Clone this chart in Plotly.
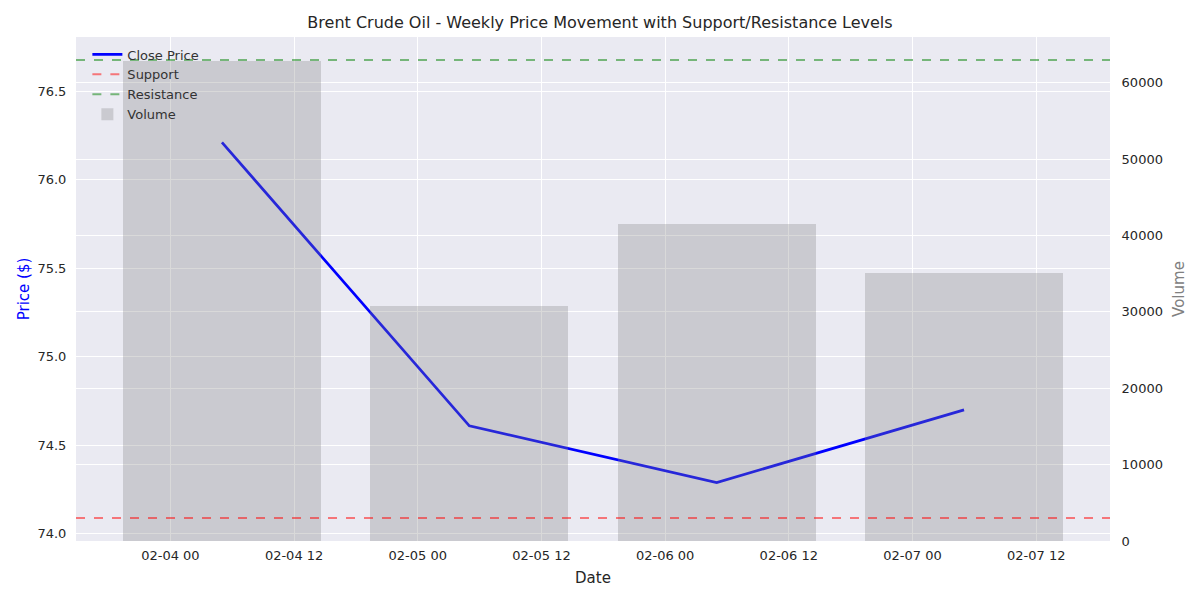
import plotly.graph_objects as go
import pandas as pd

dates = ["2025-02-04 05:00", "2025-02-05 05:00", "2025-02-06 05:00", "2025-02-07 05:00"]
close_prices = [76.21, 74.61, 74.29, 74.70]
volumes = [62900, 30800, 41500, 35100]
support_level = 74.09
resistance_level = 76.675

dt = pd.to_datetime(dates)
bar_width_days = 0.8
half = pd.Timedelta(days=bar_width_days / 2)
lo, hi = dt.min() - half, dt.max() + half
pad = (hi - lo) * 0.05
x_range = [lo - pad, hi + pad]

tick_vals = pd.date_range("2025-02-04 00:00", "2025-02-07 12:00", freq="12h")
tick_text = [t.strftime("%m-%d %H") for t in tick_vals]

fig = go.Figure()
fig.add_trace(go.Scatter(x=dt, y=close_prices, mode="lines", name="Close Price",
                         line=dict(color="blue", width=2.7), yaxis="y"))
fig.add_trace(go.Scatter(x=[None], y=[None], mode="lines", name="Support",
                         line=dict(color="rgba(255,0,0,0.5)", width=2, dash="dash")))
fig.add_trace(go.Scatter(x=[None], y=[None], mode="lines", name="Resistance",
                         line=dict(color="rgba(0,128,0,0.5)", width=2, dash="dash")))
fig.add_trace(go.Bar(x=dt, y=volumes, name="Volume", yaxis="y2",
                     width=bar_width_days * 86400000,
                     marker=dict(color="rgba(128,128,128,0.3)", line=dict(width=0))))

fig.add_shape(type="line", xref="x domain", yref="y", x0=0, x1=1,
              y0=support_level, y1=support_level,
              line=dict(color="rgba(255,0,0,0.5)", width=2, dash="dash"))
fig.add_shape(type="line", xref="x domain", yref="y", x0=0, x1=1,
              y0=resistance_level, y1=resistance_level,
              line=dict(color="rgba(0,128,0,0.5)", width=2, dash="dash"))

font_family = "DejaVu Sans"
fig.update_layout(
    width=1200, height=600,
    margin=dict(l=76, r=90, t=37, b=59),
    paper_bgcolor="white", plot_bgcolor="#EAEAF2",
    font=dict(family=font_family, size=13, color="#262626"),
    title=dict(text="Brent Crude Oil - Weekly Price Movement with Support/Resistance Levels",
               x=0.5, xanchor="center", y=0.972, yanchor="top",
               font=dict(size=16, color="#262626")),
    showlegend=True,
    legend=dict(x=0.011, y=0.995, xanchor="left", yanchor="top",
                bgcolor="rgba(0,0,0,0)", font=dict(size=13, color="#333333"),
                tracegroupgap=0),
    bargap=0,
    xaxis=dict(range=x_range, tickvals=tick_vals, ticktext=tick_text,
               title=dict(text="Date", font=dict(size=15), standoff=10),
               showgrid=True, gridcolor="white", gridwidth=1.2,
               ticks="outside", ticklen=2, tickcolor="rgba(0,0,0,0)",
               zeroline=False, showline=False, tickfont=dict(size=13)),
    yaxis=dict(range=[73.96, 76.805], tickvals=[74.0, 74.5, 75.0, 75.5, 76.0, 76.5],
               tickformat=".1f",
               title=dict(text="Price ($)", font=dict(size=15, color="blue"), standoff=4),
               showgrid=True, gridcolor="white", gridwidth=1.2,
               ticks="outside", ticklen=6, tickcolor="rgba(0,0,0,0)",
               zeroline=False, showline=False, tickfont=dict(size=13)),
    yaxis2=dict(overlaying="y", side="right", range=[0, 66000],
                tickvals=[0, 10000, 20000, 30000, 40000, 50000, 60000],
                tickformat="d",
                title=dict(text="Volume", font=dict(size=15, color="gray"), standoff=11),
                showgrid=True, gridcolor="white", gridwidth=1.2,
                ticks="outside", ticklen=8, tickcolor="rgba(0,0,0,0)",
                zeroline=False, showline=False, tickfont=dict(size=13)),
)

fig.write_html("out.html")
